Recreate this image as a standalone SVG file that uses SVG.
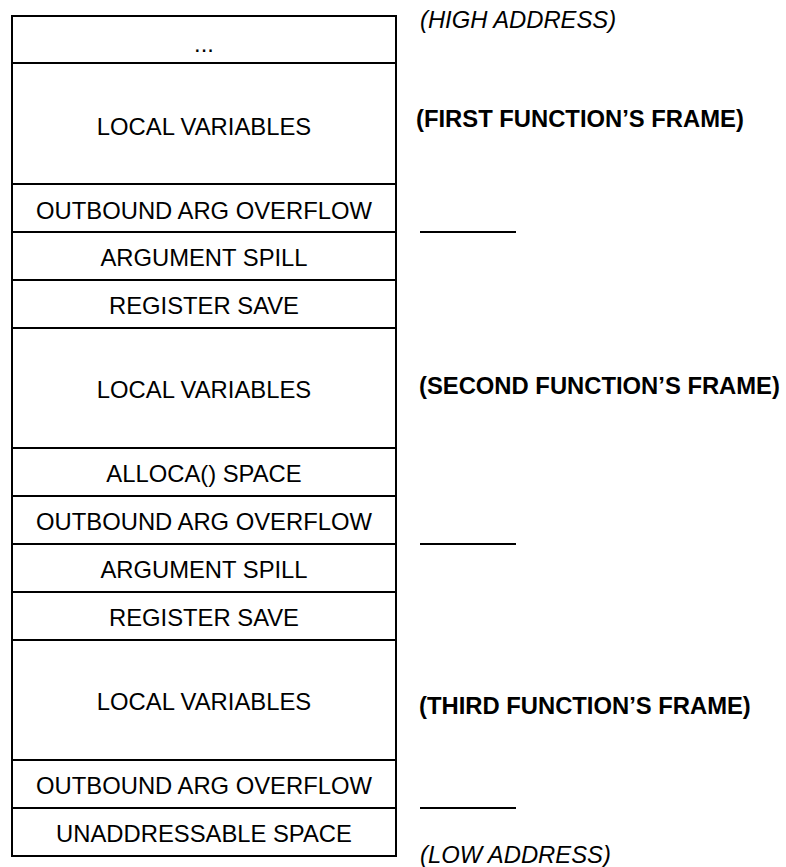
<svg xmlns="http://www.w3.org/2000/svg" width="786" height="867" viewBox="0 0 786 867">
  <style>
    .cell { fill: #ffffff; stroke: #000000; stroke-width: 2; }
    .lbl { font-family: "Liberation Sans", Arial, sans-serif; font-size: 23.8px; fill: #000000; text-anchor: middle; }
    .frame { font-family: "Liberation Sans", Arial, sans-serif; font-size: 23.8px; font-weight: bold; fill: #000000; }
    .addr { font-family: "Liberation Sans", Arial, sans-serif; font-size: 23.8px; font-style: italic; fill: #000000; }
    .sep { stroke: #000000; stroke-width: 2; fill: none; }
  </style>
  <rect width="786" height="867" fill="#ffffff"/>

  <!-- stack cells, high address at top -->
  <g id="cell-ellipsis"><rect class="cell" x="12" y="16" width="384" height="47"/><text class="lbl" x="204" y="52">...</text></g>
  <g id="cell-local-1"><rect class="cell" x="12" y="63" width="384" height="121"/><text class="lbl" x="204" y="135">LOCAL VARIABLES</text></g>
  <g id="cell-outbound-1"><rect class="cell" x="12" y="184" width="384" height="48"/><text class="lbl" x="204" y="219">OUTBOUND ARG OVERFLOW</text></g>
  <g id="cell-spill-1"><rect class="cell" x="12" y="232" width="384" height="48"/><text class="lbl" x="204" y="266">ARGUMENT SPILL</text></g>
  <g id="cell-regsave-1"><rect class="cell" x="12" y="280" width="384" height="48"/><text class="lbl" x="204" y="314">REGISTER SAVE</text></g>
  <g id="cell-local-2"><rect class="cell" x="12" y="328" width="384" height="120"/><text class="lbl" x="204" y="398">LOCAL VARIABLES</text></g>
  <g id="cell-alloca"><rect class="cell" x="12" y="448" width="384" height="48"/><text class="lbl" x="204" y="482">ALLOCA() SPACE</text></g>
  <g id="cell-outbound-2"><rect class="cell" x="12" y="496" width="384" height="48"/><text class="lbl" x="204" y="530">OUTBOUND ARG OVERFLOW</text></g>
  <g id="cell-spill-2"><rect class="cell" x="12" y="544" width="384" height="48"/><text class="lbl" x="204" y="578">ARGUMENT SPILL</text></g>
  <g id="cell-regsave-2"><rect class="cell" x="12" y="592" width="384" height="48"/><text class="lbl" x="204" y="626">REGISTER SAVE</text></g>
  <g id="cell-local-3"><rect class="cell" x="12" y="640" width="384" height="120"/><text class="lbl" x="204" y="710">LOCAL VARIABLES</text></g>
  <g id="cell-outbound-3"><rect class="cell" x="12" y="760" width="384" height="48"/><text class="lbl" x="204" y="794">OUTBOUND ARG OVERFLOW</text></g>
  <g id="cell-unaddressable"><rect class="cell" x="12" y="808" width="384" height="48"/><text class="lbl" x="204" y="842">UNADDRESSABLE SPACE</text></g>

  <!-- frame boundary markers -->
  <g id="connectors">
    <line class="sep" x1="420" y1="232" x2="516" y2="232"/>
    <line class="sep" x1="420" y1="544" x2="516" y2="544"/>
    <line class="sep" x1="420" y1="808" x2="516" y2="808"/>
  </g>

  <!-- side annotations -->
  <g id="label-high"><text class="addr" x="420" y="28">(HIGH ADDRESS)</text></g>
  <g id="label-first"><text class="frame" x="416" y="127">(FIRST FUNCTION’S FRAME)</text></g>
  <g id="label-second"><text class="frame" x="419" y="394">(SECOND FUNCTION’S FRAME)</text></g>
  <g id="label-third"><text class="frame" x="419" y="714">(THIRD FUNCTION’S FRAME)</text></g>
  <g id="label-low"><text class="addr" x="420" y="863">(LOW ADDRESS)</text></g>
</svg>
